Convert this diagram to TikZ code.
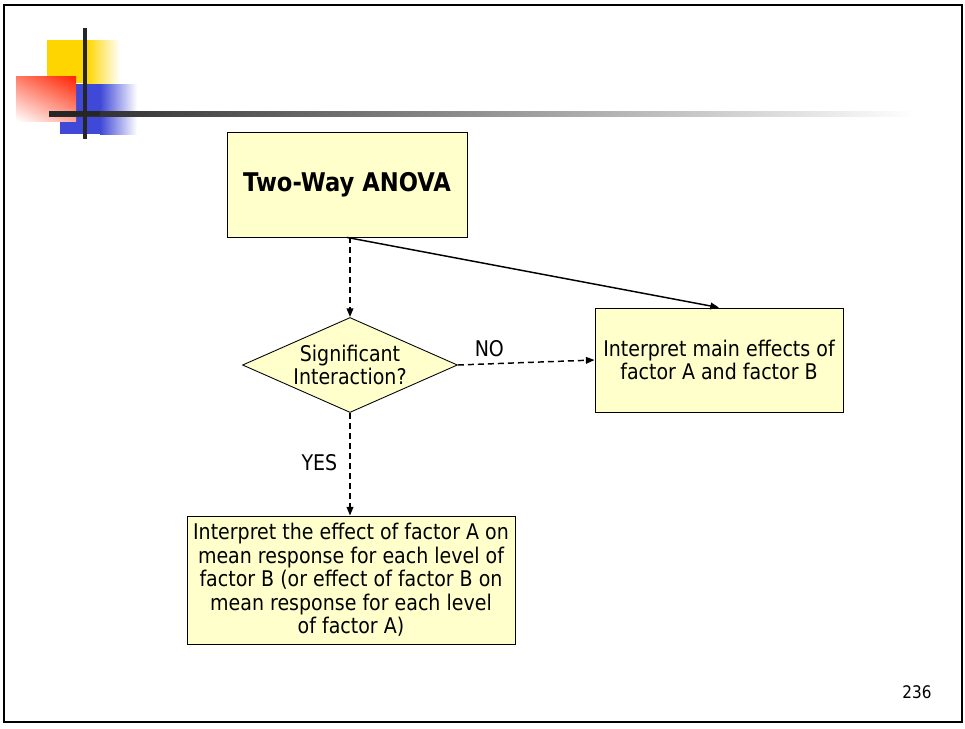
\documentclass[tikz,border=0pt]{standalone}
\usepackage{fontspec}
\setmainfont[FakeStretch=0.88]{DejaVu Sans}
\usetikzlibrary{shapes.geometric,arrows.meta,shadings}
\definecolor{boxfill}{HTML}{FFFFCC}
\definecolor{decoyellow}{HTML}{FFD500}
\definecolor{decored}{HTML}{FF2200}
\definecolor{decoblue}{HTML}{4048D8}
\definecolor{barcol}{HTML}{262626}
\begin{document}
\begin{tikzpicture}[x=0.75pt,y=-0.75pt,
  box/.style={draw=black,line width=0.65pt,fill=boxfill,align=center,inner sep=0pt,
    font=\fontsize{16.2}{17.6}\selectfont},
  decision/.style={diamond,draw=black,line width=0.65pt,fill=boxfill,align=center,inner sep=0pt,
    shape aspect=2.26,font=\fontsize{16.2}{17.6}\selectfont},
  flow/.style={line width=1.1pt,-{Triangle[length=6.5pt,width=5pt]}},
  dashflow/.style={flow,dash pattern=on 4.5pt off 3pt},
  lbl/.style={font=\fontsize{16.2}{17.6}\selectfont,inner sep=1pt}]
\useasboundingbox (0,0) rectangle (965,729);
% slide frame
\draw[line width=1.6pt] (4,5) rectangle (962,722);
% corner ornament: coloured squares
\fill[decoyellow] (47,40) rectangle (87,83);
\shade[left color=decoyellow,right color=white] (87,40) rectangle (120,83);
\fill[decoblue] (60,84) rectangle (100,134);
\shade[left color=decoblue,right color=white] (100,84) rectangle (137,134);
\shade[upper right=decored,upper left=decored!60,lower right=decored!40,lower left=white]
  (16,76) rectangle (76,121);
% ornament bars
\shade[left color=barcol,right color=white] (49,111) rectangle (915,116);
\fill[barcol] (49,111) rectangle (100,116);
\fill[barcol] (83,28) rectangle (87,139);
% flowchart
\node[box,minimum width=180pt,minimum height=78.75pt,font=\fontsize{19.3}{22}\selectfont\bfseries]
  (anova) at (347,184.5) {Two-Way ANOVA};
\node[decision,minimum width=161.25pt,minimum height=71.25pt]
  (inter) at (350,365) {Significant\\Interaction?};
\node[box,minimum width=186pt,minimum height=78pt]
  (main) at (719,360) {Interpret main effects of\\factor A and factor B};
\node[box,minimum width=246pt,minimum height=96pt]
  (simple) at (351,580) {Interpret the effect of factor A on\\mean response for each level of\\factor B (or effect of factor B on\\mean response for each level\\of factor A)};
\draw[dashflow] (inter.north |- anova.south) -- (inter.north);
\draw[flow] (anova.south) -- (main.north);
\draw[dashflow] (inter.east) -- node[lbl,pos=0.23,above=4pt] (no) {NO} (main.west);
\draw[dashflow] (inter.south) -- node[lbl,pos=0.48,left=8pt] (yes) {YES} (inter.south |- simple.north);
% page number
\node[font=\fontsize{13}{15}\selectfont] (page) at (917,692) {236};
\end{tikzpicture}
\end{document}
